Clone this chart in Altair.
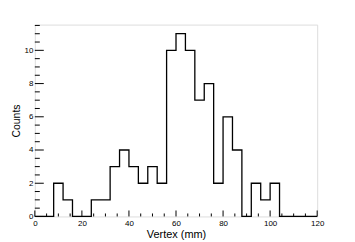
import altair as alt
import pandas as pd

bin_edges = list(range(0, 124, 4))
counts = [0, 0, 2, 1, 0, 0, 1, 1, 3, 4, 3, 2, 3, 2, 10, 11, 10, 7, 8, 2, 6, 4, 0, 2, 1, 2, 0, 0, 0, 0]
x_major = [0, 20, 40, 60, 80, 100, 120]
x_minor = [v for v in range(0, 121, 5) if v % 20 != 0]
y_major = [0, 2, 4, 6, 8, 10]
y_minor = [v / 2 for v in range(0, 24) if v % 4 != 0]

W, H = 284, 193
FONT = "Liberation Sans"

hist = pd.DataFrame({"x": bin_edges, "y": counts + [counts[-1]]})

xs = alt.Scale(domain=[0, 120], nice=False, zero=False)
ys = alt.Scale(domain=[0, 11.55], nice=False, zero=False)

xaxis = alt.Axis(values=x_major, ticks=False, grid=False, domain=False,
                 labelOverlap=False, labelFlush=False,
                 labelFontSize=8, labelFont=FONT, labelColor="black", labelPadding=3,
                 titleFont=FONT, titleFontSize=11, titleFontWeight="normal",
                 titleColor="black", titlePadding=1)
yaxis = alt.Axis(values=y_major, ticks=False, grid=False, domain=False,
                 labelOverlap=False, labelFlush=False,
                 labelFontSize=8, labelFont=FONT, labelColor="black", labelPadding=2,
                 titleFont=FONT, titleFontSize=10.5, titleFontWeight="normal",
                 titleColor="black", titlePadding=3)

line = alt.Chart(hist).mark_line(interpolate="step-after", color="black", strokeWidth=1.3).encode(
    x=alt.X("x:Q", scale=xs, title="Vertex (mm)", axis=xaxis),
    y=alt.Y("y:Q", scale=ys, title="Counts", axis=yaxis),
)

xmaj = alt.Chart(pd.DataFrame({"v": x_major})).mark_rule(color="black", strokeWidth=1).encode(
    x=alt.X("v:Q", scale=xs, title="Vertex (mm)", axis=xaxis), y=alt.value(H), y2=alt.value(H - 6))
xmin = alt.Chart(pd.DataFrame({"v": x_minor})).mark_rule(color="black", strokeWidth=1).encode(
    x=alt.X("v:Q", scale=xs, title="Vertex (mm)", axis=xaxis), y=alt.value(H), y2=alt.value(H - 3))
ymaj = alt.Chart(pd.DataFrame({"v": y_major})).mark_rule(color="black", strokeWidth=1).encode(
    y=alt.Y("v:Q", scale=ys, title="Counts", axis=yaxis), x=alt.value(0), x2=alt.value(9))
ymin = alt.Chart(pd.DataFrame({"v": y_minor})).mark_rule(color="black", strokeWidth=1).encode(
    y=alt.Y("v:Q", scale=ys, title="Counts", axis=yaxis), x=alt.value(0), x2=alt.value(5))

chart = alt.layer(line, xmaj, xmin, ymaj, ymin).properties(
    width=W, height=H,
    autosize=alt.AutoSizeParams(type="none"),
    padding={"left": 27, "top": 16, "right": 30, "bottom": 25},
).configure_axis(labelOverlap=False, labelFlush=False).configure_view(
    stroke="black", strokeWidth=1.2).configure(background="white")

chart.save("out.html", embed_options={"renderer": "svg", "actions": False})
